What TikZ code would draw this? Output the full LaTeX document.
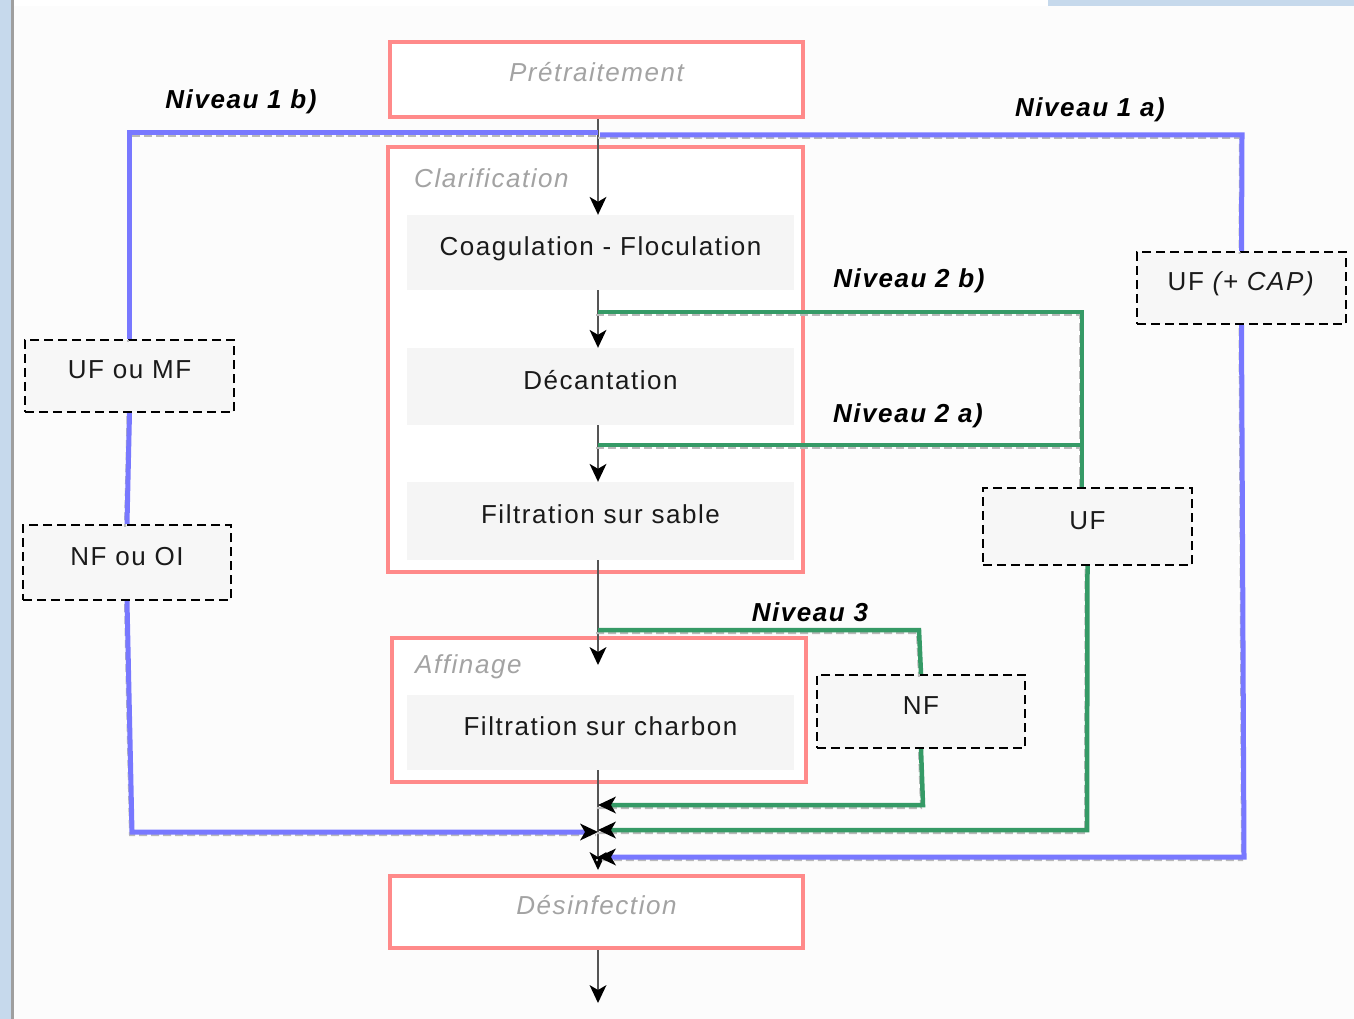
\documentclass[tikz,border=0pt]{standalone}
\usepackage{fontspec}
\setmainfont{Liberation Sans}[LetterSpace=6]
\usetikzlibrary{arrows.meta,calc}
\definecolor{bgc}{HTML}{FCFCFC}
\definecolor{stripc}{HTML}{C6D9EC}
\definecolor{pinkc}{HTML}{FF8A8A}
\definecolor{bluec}{HTML}{7878FF}
\definecolor{greenc}{HTML}{359A66}
\definecolor{innerc}{HTML}{F5F5F5}
\definecolor{dboxc}{HTML}{F7F7F7}
\definecolor{lblgray}{HTML}{A3A3A3}
\definecolor{txtc}{HTML}{1A1A1A}
\definecolor{mainc}{HTML}{555555}
\begin{document}
\begin{tikzpicture}[x=1pt,y=-1pt,
  base/.style={font=\fontsize{26pt}{30pt}\selectfont, text height=19pt, text depth=14pt, inner sep=0pt},
  pinkbox/.style={base, draw=pinkc, line width=4pt, fill=white, text=lblgray, font=\fontsize{26pt}{30pt}\selectfont\itshape},
  groupbox/.style={draw=pinkc, line width=4pt, fill=white, inner sep=0pt},
  innerbox/.style={base, fill=innerc, text=txtc, minimum width=387pt},
  dbox/.style={base, draw=black, line width=2.2pt, dash pattern=on 9pt off 5pt, fill=dboxc, text=txtc},
  grouplabel/.style={anchor=west, text=lblgray, font=\fontsize{26pt}{30pt}\selectfont\itshape, inner sep=0pt},
  niveau/.style={font=\fontsize{26pt}{30pt}\selectfont\bfseries\itshape, text=black, inner sep=0pt},
  arrowtip/.tip={Stealth[length=18pt,width=17pt,inset=5pt,line width=0pt,color=black]},
  flow/.style={draw=mainc, line width=2.2pt, -arrowtip},
  shadowline/.style={preaction={draw=gray!55, line width=2pt, dash pattern=on 8pt off 4pt, arrows=-, transform canvas={shift={(-2pt,-3pt)}}}},
  bl/.style={draw=bluec, line width=5pt, shadowline},
  gl/.style={draw=greenc, line width=4.5pt, shadowline},
  tipin/.style={-arrowtip}
]
\useasboundingbox (0,0) rectangle (1354,1019);
\fill[bgc] (0,0) rectangle (1354,1019);
\fill[stripc] (0,0) rectangle (11,1019);
\fill[gray!75] (11,0) rectangle (13.5,1019);
\fill[white] (13.5,0) rectangle (1048,6);
\fill[stripc] (1048,0) rectangle (1354,6);

% main stage boxes
\node[pinkbox, minimum width=413pt, minimum height=75pt] (pre) at (596.5,79.5) {Prétraitement};
\node[groupbox, minimum width=415pt, minimum height=425pt] (clar) at (595.5,359.5) {};
\node[grouplabel] (clarlbl) at (414,178) {Clarification};
\node[innerbox, minimum height=75pt] (coag) at (600.5,252.5) {Coagulation - Floculation};
\node[innerbox, minimum height=77pt] (dec) at (600.5,386.5) {Décantation};
\node[innerbox, minimum height=78pt] (filt) at (600.5,521) {Filtration sur sable};
\node[groupbox, minimum width=414pt, minimum height=144pt] (aff) at (599,710) {};
\node[grouplabel] (afflbl) at (415,667) {Affinage};
\node[innerbox, minimum height=75pt] (charb) at (600.5,732.5) {Filtration sur charbon};
\node[pinkbox, minimum width=413pt, minimum height=72pt] (des) at (596.5,912) {Désinfection};

% membrane boxes
\node[dbox, minimum width=209pt, minimum height=72pt] (ufmf) at (129.5,376) {UF ou MF};
\node[dbox, minimum width=208pt, minimum height=75pt] (nfoi) at (127,562.5) {NF ou OI};
\node[dbox, minimum width=209pt, minimum height=72pt] (ufcap) at (1241.5,288) {UF \textit{(+ CAP)}};
\node[dbox, minimum width=209pt, minimum height=77pt] (uf) at (1087.5,526.5) {UF};
\node[dbox, minimum width=208pt, minimum height=73pt] (nf) at (921,711.5) {NF};

% level labels
\node[niveau] (n1b) at (241,102) {Niveau 1 b)};
\node[niveau] (n1a) at (1090,110) {Niveau 1 a)};
\node[niveau] (n2b) at (909,281) {Niveau 2 b)};
\node[niveau] (n2a) at (908,416) {Niveau 2 a)};
\node[niveau] (n3) at (810,612) {Niveau 3};

% coordinates
\coordinate (m) at (598,0);
\coordinate (affin) at (598,665);
\coordinate (out) at (598,1003);
\coordinate (b1) at (598,133);
\coordinate (b2) at (129.5,133);
\coordinate (b3) at (132,832);
\coordinate (j1) at (598,832);
\coordinate (a1) at (600,135);
\coordinate (a2) at (1242,135);
\coordinate (a3) at (1244,857);
\coordinate (j4) at (598,857);
\coordinate (g1) at (598,312);
\coordinate (g2) at (1082,312);
\coordinate (g3) at (598,445);
\coordinate (g4) at (1087,830);
\coordinate (j2) at (598,830);
\coordinate (g5) at (598,630);
\coordinate (g6) at (919,630);
\coordinate (g7) at (923,805);
\coordinate (j3) at (598,805);

% main flow
\draw[flow] (pre.south -| m) -- (coag.north -| m);
\draw[flow] (coag.south -| m) -- (dec.north -| m);
\draw[flow] (dec.south -| m) -- (filt.north -| m);
\draw[flow] (filt.south -| m) -- (affin);
\draw[flow, shorten >=4pt] (charb.south -| m) -- (des.north -| m);
\draw[flow] (des.south -| m) -- (out);

% Niveau 1 b
\draw[bl] (b1) -- (b2) -- (ufmf.north);
\draw[bl] (ufmf.south) -- (nfoi.north);
\draw[bl, tipin] (nfoi.south) -- (b3) -- (j1);
% Niveau 1 a
\draw[bl] (a1) -- (a2) -- (ufcap.north);
\draw[bl, tipin] (ufcap.south) -- (a3) -- (j4);
% Niveau 2
\draw[gl] (g1) -- (g2) -- (uf.north -| g2);
\draw[gl] (g3) -- (g3 -| g2);
\draw[gl, tipin] (uf.south) -- (g4) -- (j2);
% Niveau 3
\draw[gl] (g5) -- (g6) -- (nf.north);
\draw[gl, tipin] (nf.south) -- (g7) -- (j3);
\end{tikzpicture}
\end{document}
